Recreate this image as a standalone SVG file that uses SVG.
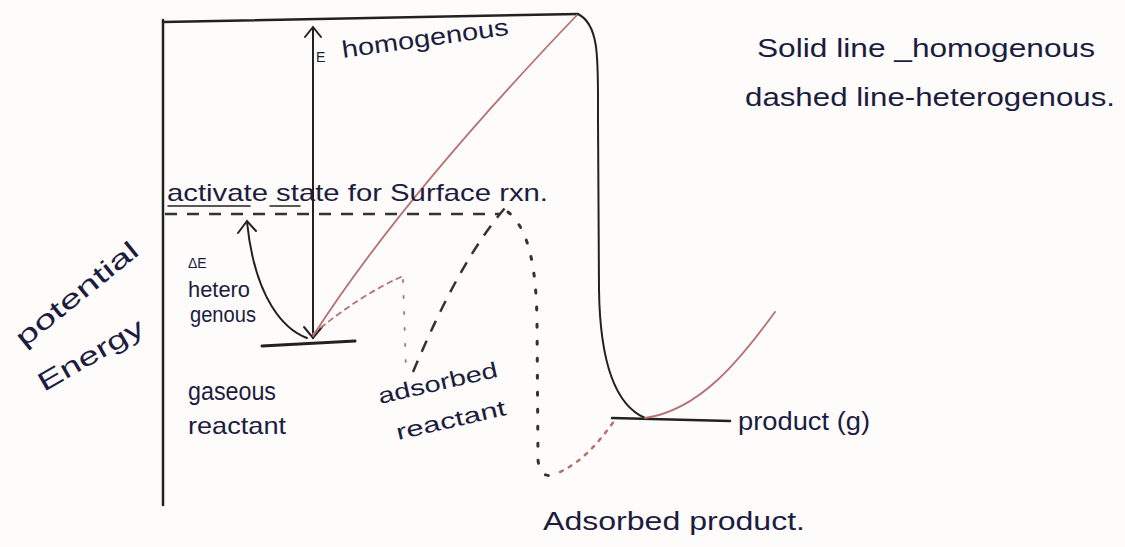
<svg xmlns="http://www.w3.org/2000/svg" width="1125" height="547" viewBox="0 0 1125 547">
<style>
.t{font-family:"Liberation Sans","DejaVu Sans",sans-serif;fill:#1c1c40;}
.ax{stroke:#222;stroke-width:2.5;fill:none;stroke-linecap:round;}
.ln{stroke:#222;stroke-width:2;fill:none;stroke-linecap:round;}
.pk{stroke:#b87070;stroke-width:1.8;fill:none;stroke-linecap:round;}
.dash{stroke:#333;stroke-width:2.5;fill:none;stroke-dasharray:12 10;}
.dot{stroke:#333;stroke-width:3;fill:none;stroke-dasharray:3 14;stroke-linecap:round;}
</style>
<rect width="1125" height="547" fill="#fdfcfa"/>
<g id="axes">
<line class="ax" x1="163" y1="20" x2="163" y2="505"/>
<line class="ax" x1="163" y1="22" x2="578" y2="14"/>
</g>
<g id="levels">
<line class="ax" x1="262" y1="346" x2="355" y2="341" style="stroke-width:3"/>
<line class="ax" x1="612" y1="418" x2="730" y2="421"/>
<line class="dash" x1="165" y1="214" x2="500" y2="214"/>
</g>
<g id="connectors">
<line class="ln" x1="313" y1="28" x2="313" y2="338"/>
<polyline class="ln" points="305,37 313,27 321,37"/>
<polyline class="ln" points="304,327 313,338 322,327"/>
<path class="ln" d="M307,338 C285,330 255,300 247,222"/>
<polyline class="ln" points="238,233 247,221 256,231"/>
<path class="pk" d="M313,336 Q400,200 578,14"/>
<path class="ln" d="M578,14 C600,25 598,60 598,120 L599,290 C600,360 615,405 645,418"/>
<path class="pk" d="M645,418 C700,410 740,360 775,312"/>
<path class="pk" d="M313,334 Q360,295 403,276" style="stroke-dasharray:5 5"/>
<path class="pk" d="M403,280 L406,370" style="stroke-dasharray:2 14"/>
<path class="dash" d="M413,372 Q460,260 505,208"/>
<path class="dot" d="M508,212 C530,230 536,270 537,320 L538,460 C540,478 550,478 560,472"/>
<path class="pk" d="M560,472 C585,460 600,440 615,420" style="stroke-dasharray:3 7;stroke-width:2.5"/>
</g>
<g id="labels">
<text class="t" x="316" y="62" font-size="14">E</text>
<text class="t" x="343" y="58" font-size="24" textLength="168" lengthAdjust="spacingAndGlyphs" transform="rotate(-8 343 58)">homogenous</text>
<text class="t" x="167" y="201" font-size="24" textLength="381" lengthAdjust="spacingAndGlyphs">activate state for Surface rxn.</text>
<line class="ln" x1="168" y1="206" x2="250" y2="206" style="stroke-width:1.5"/>
<line class="ln" x1="270" y1="206" x2="300" y2="206" style="stroke-width:1.5"/>
<text class="t" x="188" y="268" font-size="14">ΔE</text>
<text class="t" x="188" y="297" font-size="22" textLength="62" lengthAdjust="spacingAndGlyphs">hetero</text>
<text class="t" x="190" y="322" font-size="22" textLength="66" lengthAdjust="spacingAndGlyphs">genous</text>
<text class="t" x="24" y="348" font-size="26" textLength="150" lengthAdjust="spacingAndGlyphs" transform="rotate(-39 24 348)">potential</text>
<text class="t" x="44" y="392" font-size="26" textLength="118" lengthAdjust="spacingAndGlyphs" transform="rotate(-30 44 392)">Energy</text>
<text class="t" x="188" y="400" font-size="26" textLength="88" lengthAdjust="spacingAndGlyphs">gaseous</text>
<text class="t" x="188" y="434" font-size="24" textLength="98" lengthAdjust="spacingAndGlyphs">reactant</text>
<text class="t" x="380" y="404" font-size="22" textLength="122" lengthAdjust="spacingAndGlyphs" transform="rotate(-13 380 404)">adsorbed</text>
<text class="t" x="398" y="440" font-size="22" textLength="112" lengthAdjust="spacingAndGlyphs" transform="rotate(-13 398 440)">reactant</text>
<text class="t" x="738" y="430" font-size="26" textLength="132" lengthAdjust="spacingAndGlyphs">product (g)</text>
<text class="t" x="543" y="530" font-size="26" textLength="262" lengthAdjust="spacingAndGlyphs">Adsorbed product.</text>
<text class="t" x="757" y="57" font-size="26" textLength="338" lengthAdjust="spacingAndGlyphs">Solid line _homogenous</text>
<text class="t" x="745" y="106" font-size="26" textLength="370" lengthAdjust="spacingAndGlyphs">dashed line-heterogenous.</text>
</g>
</svg>
